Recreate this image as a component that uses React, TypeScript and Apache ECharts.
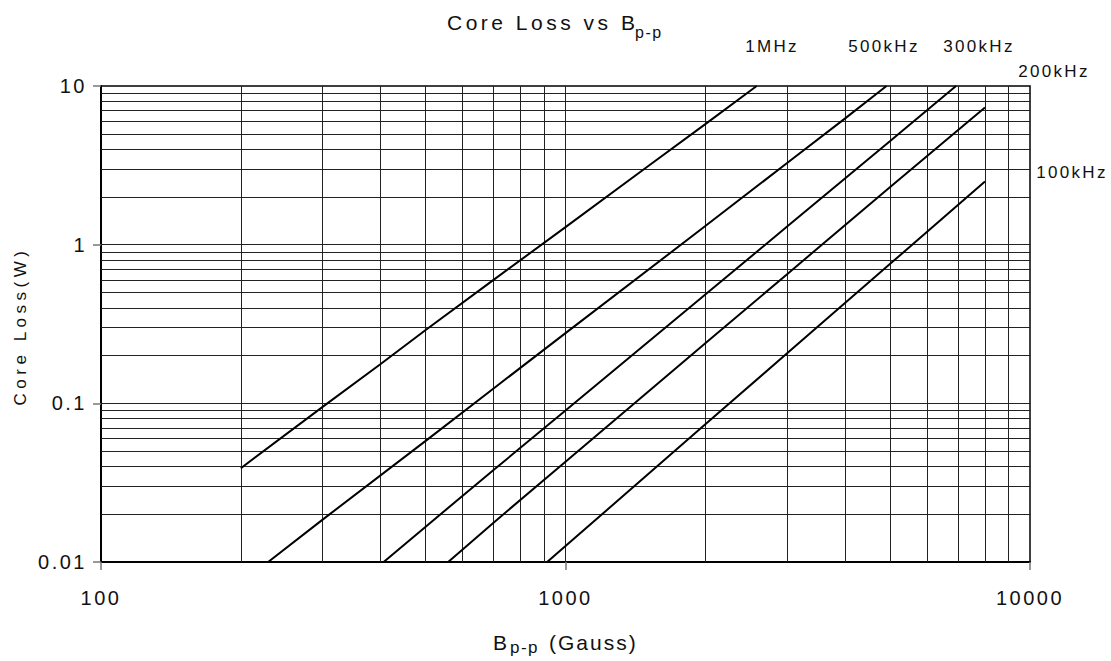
import React, { useEffect, useRef } from "react";
import * as echarts from "echarts";

// ---- data ----
const xTickLabels = ["100", "1000", "10000"];
const yTickLabels = ["0.01", "0.1", "1", "10"];
const xGridValues = [200, 300, 400, 500, 600, 700, 800, 900, 1000, 2000, 3000, 4000, 5000, 6000, 7000, 8000, 9000];
const yGridValues = [
  0.02, 0.03, 0.04, 0.05, 0.06, 0.07, 0.08, 0.09, 0.1,
  0.2, 0.3, 0.4, 0.5, 0.6, 0.7, 0.8, 0.9, 1,
  2, 3, 4, 5, 6, 7, 8, 9,
];

const seriesNames = ["1MHz", "500kHz", "300kHz", "200kHz", "100kHz"];
const loss1MHz = [[200, 0.039], [300, 0.095], [400, 0.177], [500, 0.29], [700, 0.6], [1000, 1.29], [1500, 3.1], [2000, 5.75], [2580, 10]];
const loss500kHz = [[229, 0.01], [300, 0.0185], [500, 0.058], [700, 0.124], [1000, 0.277], [2000, 1.31], [3000, 3.27], [4000, 6.25], [4910, 10]];
const loss300kHz = [[406, 0.01], [500, 0.0167], [700, 0.038], [1000, 0.09], [2000, 0.485], [3000, 1.3], [5000, 4.5], [6930, 10]];
const loss200kHz = [[559, 0.01], [700, 0.0177], [1000, 0.0428], [2000, 0.239], [3000, 0.652], [5000, 2.31], [8000, 7.32]];
const loss100kHz = [[913, 0.01], [1000, 0.0126], [2000, 0.0737], [3000, 0.207], [5000, 0.757], [8000, 2.5]];
const seriesData = [loss1MHz, loss500kHz, loss300kHz, loss200kHz, loss100kHz];

// ---- styling ----
const FONT = "'Liberation Sans', Arial, sans-serif";
const spacing: Record<string, string> = {
  "Core Loss vs B": "3.5px",
  "Core Loss(W)": "4.5px",
  "p-p": "1.5px",
  B: "2px",
  "(Gauss)": "2px",
};
xTickLabels.concat(yTickLabels).forEach((t) => (spacing[t] = "2.5px"));
seriesNames.forEach((t) => (spacing[t] = "2.3px"));

const labelPos: Record<string, [number, number]> = {
  "1MHz": [772, 46],
  "500kHz": [884, 46],
  "300kHz": [979, 46],
  "200kHz": [1054, 71],
  "100kHz": [1072, 172],
};

export default function App() {
  const ref = useRef<HTMLDivElement>(null);
  useEffect(() => {
    if (!ref.current) return;
    const el = ref.current;
    const chart = echarts.init(el, null, { renderer: "svg" });

    const applySpacing = () => {
      el.querySelectorAll("text").forEach((t) => {
        const s = spacing[(t.textContent || "").trim()];
        if (s) {
          t.setAttribute("letter-spacing", s);
          (t as any).style.letterSpacing = s;
        }
      });
    };

    const txt = (text: string, x: number, y: number, size: number, align = "center", rotation = 0) => ({
      type: "text",
      x,
      y,
      rotation,
      silent: true,
      style: {
        text,
        fill: "#111",
        font: `${size}px ${FONT}`,
        textAlign: align,
        textVerticalAlign: "middle",
      },
    });

    const option: any = {
      animation: false,
      backgroundColor: "#fff",
      grid: {
        left: 101,
        right: 81,
        top: 86,
        bottom: 99,
        show: true,
        borderColor: "#000",
        borderWidth: 1.5,
      },
      xAxis: {
        type: "log",
        logBase: 10,
        min: 100,
        max: 10000,
        axisLine: { show: true, onZero: false, lineStyle: { color: "#000", width: 2 } },
        axisTick: { show: true, length: 8, lineStyle: { color: "#777", width: 1.5 } },
        splitLine: { show: false },
        axisLabel: {
          margin: 26,
          fontSize: 20,
          fontFamily: FONT,
          color: "#111",
          formatter: (v: number) => xTickLabels[Math.round(Math.log10(v)) - 2] ?? "",
        },
      },
      yAxis: {
        type: "log",
        logBase: 10,
        min: 0.01,
        max: 10,
        axisLine: { show: true, onZero: false, lineStyle: { color: "#000", width: 2 } },
        axisTick: { show: true, length: 8, lineStyle: { color: "#777", width: 1.5 } },
        splitLine: { show: false },
        axisLabel: {
          margin: 14,
          fontSize: 20,
          fontFamily: FONT,
          color: "#111",
          padding: [7, 0, 0, 0],
          formatter: (v: number) => yTickLabels[Math.round(Math.log10(v)) + 2] ?? "",
        },
      },
      series: [
        {
          type: "line",
          name: "grid",
          data: [[1000, 1]],
          silent: true,
          showSymbol: false,
          lineStyle: { opacity: 0 },
          z: 1,
          markLine: {
            silent: true,
            z: 1,
            symbol: ["none", "none"],
            label: { show: false },
            emphasis: { disabled: true },
            lineStyle: { color: "#222", width: 1, type: "solid" },
            data: [
              ...xGridValues.map((v) => ({ xAxis: v })),
              ...yGridValues.map((v) => ({ yAxis: v })),
            ],
          },
        },
        ...seriesData.map((d, i) => ({
          type: "line",
          name: seriesNames[i],
          data: d,
          showSymbol: false,
          silent: true,
          z: 3,
          lineStyle: { color: "#000", width: 2 },
        })),
      ],
      graphic: [
        txt("Core Loss vs B", 447, 22.5, 21, "left"),
        txt("p-p", 635, 32, 16, "left"),
        txt("B", 493, 642, 21, "left"),
        txt("p-p", 510, 647, 17, "left"),
        txt("(Gauss)", 549, 642, 21, "left"),
        txt("Core Loss(W)", 20, 326, 17, "center", Math.PI / 2),
        ...seriesNames.map((n) => txt(n, labelPos[n][0], labelPos[n][1], 17, "center")),
      ],
    };

    chart.on("finished", applySpacing);
    chart.setOption(option);
    applySpacing();
    const t1 = setTimeout(applySpacing, 50);
    const t2 = setTimeout(applySpacing, 400);
    return () => {
      clearTimeout(t1);
      clearTimeout(t2);
      chart.dispose();
    };
  }, []);

  return (
    <div
      ref={ref}
      style={{ position: "fixed", left: 0, top: 0, width: "1111px", height: "661px", background: "#fff" }}
    />
  );
}
